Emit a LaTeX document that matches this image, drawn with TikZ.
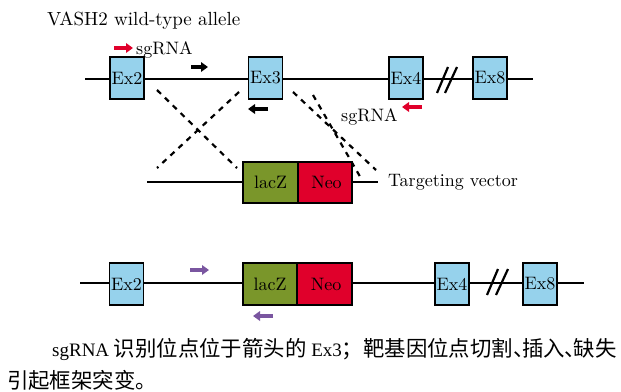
\documentclass[tikz,border=0pt]{standalone}
\usepackage{fontspec}
\newfontfamily\lmten{lmroman10-regular.otf}
\newfontfamily\cjk{Noto Sans CJK SC}
\newfontfamily\capserif{Liberation Serif}
\usetikzlibrary{arrows.meta}

\definecolor{exonblue}{RGB}{150,210,236}
\definecolor{lacgreen}{RGB}{122,150,42}
\definecolor{neored}{RGB}{224,0,43}
\definecolor{guidepurple}{RGB}{122,86,160}

\tikzset{
  lbl/.style={font=\lmten\fontsize{18}{20}\selectfont, inner sep=0pt},
  exon/.style={draw, line width=1.8pt, fill=exonblue, minimum width=34pt,
    minimum height=42pt, inner sep=0pt, font=\lmten\fontsize{18}{20}\selectfont},
  cassette/.style={draw, line width=1.8pt, minimum height=41pt, inner sep=0pt,
    font=\lmten\fontsize{18}{20}\selectfont},
  dna/.style={line width=1.8pt},
  cut/.style={line width=2.2pt, dash pattern=on 5.5pt off 5.5pt},
  brk/.style={line width=2.2pt},
  primer/.style={line width=4pt, -{Triangle[length=7pt,width=9.5pt]}},
  captxt/.style={inner sep=0pt, anchor=base west,
    font=\capserif\fontsize{19}{22}\selectfont},
}
\newcommand{\zh}[1]{{\cjk\fontsize{21.4}{24}\selectfont #1}}
% narrow enumeration comma, set half width as in Chinese typesetting
\newcommand{\dunhao}{\makebox[9pt][l]{\cjk\fontsize{21.4}{24}\selectfont 、}}

\begin{document}
\begin{tikzpicture}[x=1pt, y=-1pt]
  \useasboundingbox (0,0) rectangle (621,391);

  % ---------- wild-type allele ----------
  \node[inner sep=0pt, anchor=base west, font=\lmten\fontsize{19}{21}\selectfont]
    (title) at (47,25) {VASH2 wild-type allele};

  \coordinate (wtL) at (85,79);
  \coordinate (wtR) at (533,79);
  \draw[dna] (wtL) -- (wtR);

  % break marks between Ex4 and Ex8
  \coordinate (wb1a) at (437,93); \coordinate (wb1b) at (448,67);
  \coordinate (wb2a) at (445,93); \coordinate (wb2b) at (457,67);
  \draw[brk] (wb1a) -- (wb1b);
  \draw[brk] (wb2a) -- (wb2b);

  \node[exon] (wEx2) at (127,78) {Ex2};
  \node[exon] (wEx3) at (265.5,78) {Ex3};
  \node[exon] (wEx4) at (406,78) {Ex4};
  \node[exon] (wEx8) at (490,78) {Ex8};

  % sgRNA sites
  \coordinate (sgA1) at (114,48); \coordinate (sgA2) at (133,48);
  \draw[primer, neored] (sgA1) -- (sgA2);
  \node[lbl, anchor=base west] (sgA) at (136,54) {sgRNA};

  \coordinate (sgB1) at (422,107); \coordinate (sgB2) at (402,107);
  \draw[primer, neored] (sgB1) -- (sgB2);
  \node[lbl, anchor=base west] (sgB) at (341,121) {sgRNA};

  % primers on the wild-type allele
  \coordinate (pf1) at (191,67); \coordinate (pf2) at (208,67);
  \draw[primer] (pf1) -- (pf2);
  \coordinate (pr1) at (268,109); \coordinate (pr2) at (248,109);
  \draw[primer] (pr1) -- (pr2);

  % ---------- targeting vector ----------
  \coordinate (tvL) at (147,182);
  \coordinate (tvR) at (378,182);
  \draw[dna] (tvL) -- (tvR);
  \node[cassette, fill=lacgreen, minimum width=55pt] (vLac) at (270.5,182.5) {lacZ};
  \node[cassette, fill=neored, minimum width=54pt] (vNeo) at (325,182.5) {\,Neo};
  \node[lbl, anchor=west] (tvtxt) at (388,182.5) {Targeting vector};

  % homology arms crossing over
  \coordinate (xa1) at (157,90);  \coordinate (xa2) at (237,168);
  \coordinate (xb1) at (239,92);  \coordinate (xb2) at (157,168);
  \coordinate (xc1) at (293,92);  \coordinate (xc2) at (376,170);
  \coordinate (xd1) at (313,95);  \coordinate (xd2) at (362,180);
  \draw[cut] (xa1) -- (xa2);
  \draw[cut] (xb1) -- (xb2);
  \draw[cut] (xc1) -- (xc2);
  \draw[cut] (xd1) -- (xd2);

  % ---------- targeted allele ----------
  \coordinate (kL) at (80,283);
  \coordinate (kR) at (584,283);
  \draw[dna] (kL) -- (kR);

  \coordinate (kb1a) at (487,295); \coordinate (kb1b) at (498,269);
  \coordinate (kb2a) at (496,295); \coordinate (kb2b) at (508,269);
  \draw[brk] (kb1a) -- (kb1b);
  \draw[brk] (kb2a) -- (kb2b);

  \node[exon] (kEx2) at (126.5,284) {Ex2};
  \node[cassette, fill=lacgreen, minimum width=54pt, minimum height=42pt] (kLac) at (270,284) {lacZ};
  \node[cassette, fill=neored, minimum width=55pt, minimum height=42pt] (kNeo) at (324.5,284) {\,Neo};
  \node[exon] (kEx4) at (452,284) {\raisebox{-5pt}{Ex4}};
  \node[exon] (kEx8) at (540,284) {Ex8};

  \coordinate (kf1) at (190,270); \coordinate (kf2) at (209,270);
  \draw[primer, guidepurple] (kf1) -- (kf2);
  \coordinate (kr1) at (273,316); \coordinate (kr2) at (253,316);
  \draw[primer, guidepurple] (kr1) -- (kr2);

  % ---------- caption ----------
  \node[captxt] (cap1) at (52,356)
    {sgRNA \zh{识别位点位于箭头的} Ex3\zh{；靶基因位点切割}\dunhao\zh{插入}\dunhao\zh{缺失}};
  \node[captxt] (cap2) at (7,388) {\zh{引起框架突变。}};
\end{tikzpicture}
\end{document}
